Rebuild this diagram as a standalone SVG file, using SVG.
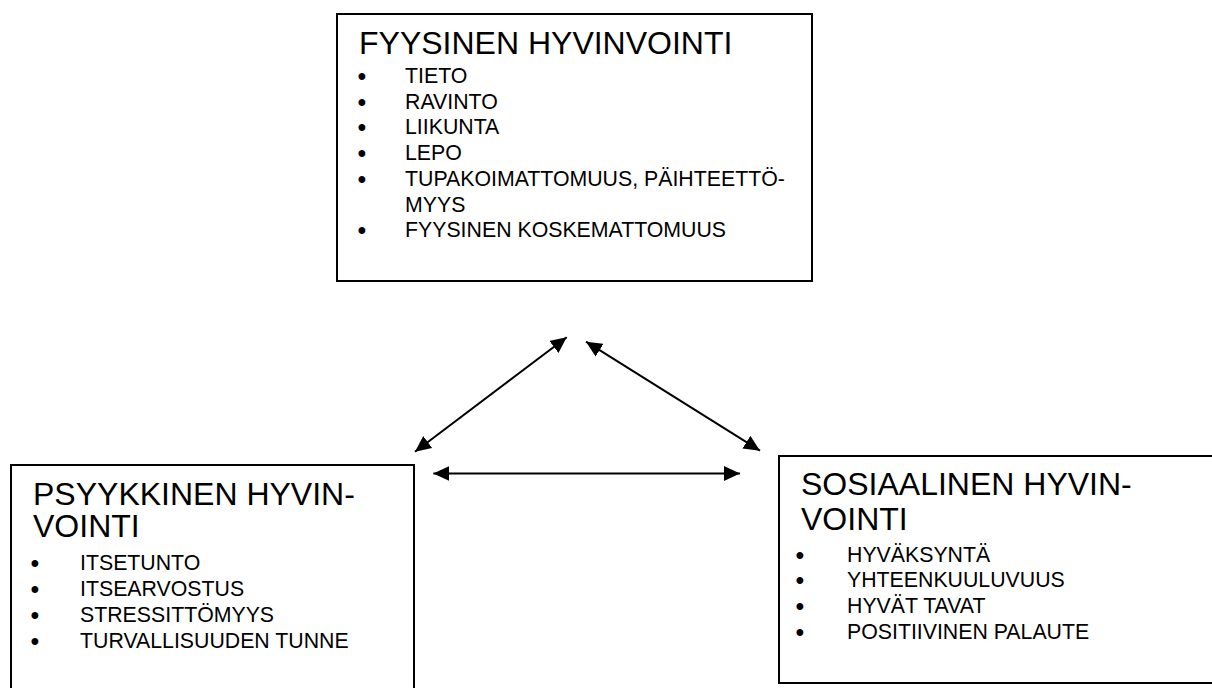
<svg xmlns="http://www.w3.org/2000/svg" width="1212" height="688" viewBox="0 0 1212 688">
<style>
.box{fill:#fff;stroke:#000;stroke-width:2}
.t{font-family:"Liberation Sans",Arial,sans-serif;font-size:32px;fill:#000}
.i{font-family:"Liberation Sans",Arial,sans-serif;font-size:21.3px;fill:#000}
.b{font-family:"Liberation Sans",Arial,sans-serif;font-size:25px;fill:#000}
.conn{stroke:#000;stroke-width:2;fill:none;marker-start:url(#ah);marker-end:url(#ah)}
</style>
<defs>
<marker id="ah" markerUnits="userSpaceOnUse" markerWidth="16" markerHeight="15" refX="16" refY="7.5" orient="auto-start-reverse" viewBox="0 0 16 15">
<path d="M0,0 L16,7.5 L0,15 z" fill="#000"/>
</marker>
</defs>
<rect width="1212" height="688" fill="#fff"/>
<g id="fyysinen">
<rect class="box" x="337" y="14" width="475" height="267"/>
<text class="t" x="359" y="54">FYYSINEN HYVINVOINTI</text>
<text class="b" x="357.6" y="85">•</text><text class="i" x="405" y="83">TIETO</text>
<text class="b" x="357.6" y="110.7">•</text><text class="i" x="405" y="108.7">RAVINTO</text>
<text class="b" x="357.6" y="136.4">•</text><text class="i" x="405" y="134.4">LIIKUNTA</text>
<text class="b" x="357.6" y="162.1">•</text><text class="i" x="405" y="160.1">LEPO</text>
<text class="b" x="357.6" y="187.8">•</text><text class="i" x="405" y="185.8">TUPAKOIMATTOMUUS, PÄIHTEETTÖ-</text>
<text class="i" x="405" y="211.5">MYYS</text>
<text class="b" x="357.6" y="239.2">•</text><text class="i" x="405" y="237.2">FYYSINEN KOSKEMATTOMUUS</text>
</g>
<g id="psyykkinen">
<rect class="box" x="11" y="465" width="403" height="240"/>
<text class="t"><tspan x="33" y="505">PSYYKKINEN HYVIN-</tspan><tspan x="33" y="537">VOINTI</tspan></text>
<text class="b" x="30.6" y="571.5">•</text><text class="i" x="80" y="569.5">ITSETUNTO</text>
<text class="b" x="30.6" y="597.5">•</text><text class="i" x="80" y="595.5">ITSEARVOSTUS</text>
<text class="b" x="30.6" y="623.5">•</text><text class="i" x="80" y="621.5">STRESSITTÖMYYS</text>
<text class="b" x="30.6" y="649.5">•</text><text class="i" x="80" y="647.5">TURVALLISUUDEN TUNNE</text>
</g>
<g id="sosiaalinen">
<rect class="box" x="779" y="456" width="450" height="227"/>
<text class="t"><tspan x="801" y="495">SOSIAALINEN HYVIN-</tspan><tspan x="801" y="530">VOINTI</tspan></text>
<text class="b" x="795.6" y="563.7">•</text><text class="i" x="847" y="561.7">HYVÄKSYNTÄ</text>
<text class="b" x="795.6" y="589.4">•</text><text class="i" x="847" y="587.4">YHTEENKUULUVUUS</text>
<text class="b" x="795.6" y="615.1">•</text><text class="i" x="847" y="613.1">HYVÄT TAVAT</text>
<text class="b" x="795.6" y="640.8">•</text><text class="i" x="847" y="638.8">POSITIIVINEN PALAUTE</text>
</g>
<g id="connectors">
<line class="conn" x1="415" y1="451.7" x2="566.7" y2="337.3"/>
<line class="conn" x1="586" y1="341.7" x2="760" y2="450.7"/>
<line class="conn" x1="433.3" y1="473.5" x2="740" y2="473.5"/>
</g>
</svg>
